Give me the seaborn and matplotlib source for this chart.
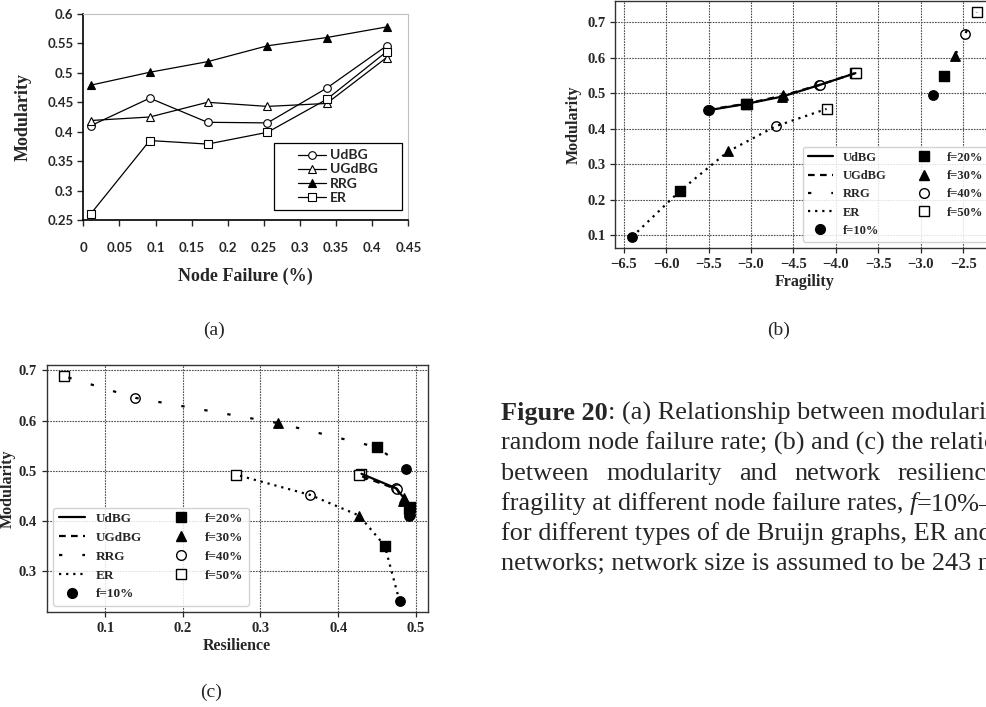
import matplotlib
matplotlib.use("Agg")
import matplotlib.pyplot as plt
import matplotlib.ticker as mticker
from matplotlib.lines import Line2D
from matplotlib.patches import Rectangle
import pandas as pd
import seaborn as sns

# ---------------- data ----------------
# (a) modularity vs node failure
failure_rate = [0.01, 0.092, 0.172, 0.255, 0.337, 0.42]
mod_udbg = [0.410, 0.457, 0.416, 0.415, 0.474, 0.546]
mod_ugdbg = [0.419, 0.425, 0.450, 0.443, 0.448, 0.526]
mod_rrg = [0.479, 0.501, 0.519, 0.546, 0.560, 0.578]
mod_er = [0.260, 0.385, 0.379, 0.399, 0.455, 0.536]

networks = ["UdBG", "UGdBG", "RRG", "ER"]
f_labels = ["f=10%", "f=20%", "f=30%", "f=40%", "f=50%"]

# (b) modularity vs fragility
frag_udbg = [-5.51, -5.06, -4.63, -4.20, -3.77]
fmod_udbg = [0.452, 0.470, 0.491, 0.523, 0.557]
frag_ugdbg = [-5.50, -5.05, -4.62, -4.19, -3.76]
fmod_ugdbg = [0.454, 0.471, 0.494, 0.524, 0.558]
frag_rrg = [-2.86, -2.73, -2.60, -2.48, -2.34]
fmod_rrg = [0.496, 0.549, 0.605, 0.667, 0.729]
frag_er = [-6.40, -5.84, -5.27, -4.71, -4.11]
fmod_er = [0.095, 0.224, 0.336, 0.407, 0.456]

# (c) modularity vs resilience
res_udbg = [0.491, 0.492, 0.485, 0.475, 0.430]
rmod_udbg = [0.410, 0.428, 0.445, 0.465, 0.494]
res_ugdbg = [0.493, 0.491, 0.483, 0.476, 0.427]
rmod_ugdbg = [0.412, 0.425, 0.440, 0.463, 0.491]
res_rrg = [0.488, 0.450, 0.322, 0.139, 0.047]
rmod_rrg = [0.504, 0.547, 0.595, 0.645, 0.688]
res_er = [0.479, 0.460, 0.427, 0.364, 0.269]
rmod_er = [0.241, 0.351, 0.411, 0.452, 0.492]

# ---------------- style ----------------
sns.set_style("ticks")
plt.rcParams["font.family"] = ["Liberation Serif", "DejaVu Serif"]

W, H = 987, 707
fig = plt.figure(figsize=(W / 100, H / 100), dpi=100)


def px_axes(l, t, r, b):
    return fig.add_axes([l / W, 1 - b / H, (r - l) / W, (b - t) / H])


SERIF_B = dict(family="Liberation Serif", weight="bold")

line_styles = {
    "UdBG": "-",
    "UGdBG": (0, (3.0, 2.4)),
    "RRG": (0, (1.5, 9.0)),
    "ER": (0, (1.0, 2.2)),
}
marker_specs = {
    "f=10%": ("o", "black"),
    "f=20%": ("s", "black"),
    "f=30%": ("^", "black"),
    "f=40%": ("o", "white"),
    "f=50%": ("s", "white"),
}


def make_long(xs, ys):
    rows = []
    for net, xv, yv in zip(networks, xs, ys):
        for f, a, b in zip(f_labels, xv, yv):
            rows.append(dict(network=net, f=f, x=a, y=b))
    return pd.DataFrame(rows)


def draw_panel(ax, df, tick_fs, leg_fs, legloc):
    for f in f_labels:
        m, fc = marker_specs[f]
        sub = df[df["f"] == f]
        sns.scatterplot(data=sub, x="x", y="y", ax=ax, marker=m, s=46,
                        color=fc, edgecolor="black", linewidth=1.0,
                        zorder=3, legend=False)
    for net in networks:
        sub = df[df["network"] == net]
        sns.lineplot(data=sub, x="x", y="y", ax=ax, sort=False, estimator=None,
                     color="black", lw=1.6, linestyle=line_styles[net],
                     zorder=4, legend=False)
    ax.grid(True, color="0.3", linestyle=(0, (1.5, 1.0)), linewidth=0.8)
    for sp in ax.spines.values():
        sp.set_color("0.2")
        sp.set_linewidth(1.0)
    ax.tick_params(direction="out", length=3.5, width=0.9, labelsize=tick_fs)
    handles = [Line2D([], [], color="black", lw=1.6, linestyle=line_styles[n])
               for n in networks]
    for f in f_labels:
        m, fc = marker_specs[f]
        handles.append(Line2D([], [], ls="none", marker=m, markersize=7,
                              markerfacecolor=fc, markeredgecolor="black",
                              markeredgewidth=1.0))
    ax.legend(handles, networks + f_labels, ncol=2, loc=legloc,
              prop=dict(family="Liberation Serif", weight="bold", size=leg_fs),
              framealpha=0.85, edgecolor="0.8")


# ---------------- (a) ----------------
ax_a = px_axes(83.3, 14, 408.3, 220)
a_series = [
    ("UdBG", mod_udbg, "o", "white"),
    ("UGdBG", mod_ugdbg, "^", "white"),
    ("RRG", mod_rrg, "^", "black"),
    ("ER", mod_er, "s", "white"),
]
for name, vals, m, fc in a_series:
    sns.lineplot(x=failure_rate, y=vals, ax=ax_a, color="black", lw=0.9,
                 marker=m, markersize=5.5, markerfacecolor=fc,
                 markeredgecolor="black", markeredgewidth=0.8, legend=False)
ax_a.set_xlim(0, 0.45)
ax_a.set_ylim(0.25, 0.6)
ax_a.xaxis.set_major_locator(mticker.MultipleLocator(0.05))
ax_a.yaxis.set_major_locator(mticker.MultipleLocator(0.05))
fmt = mticker.FuncFormatter(lambda v, p: f"{v:.2f}".rstrip("0").rstrip("."))
ax_a.xaxis.set_major_formatter(fmt)
ax_a.yaxis.set_major_formatter(fmt)
for side in ["top", "right"]:
    ax_a.spines[side].set_color("0.75")
    ax_a.spines[side].set_linewidth(0.8)
for side in ["left", "bottom"]:
    ax_a.spines[side].set_color("black")
    ax_a.spines[side].set_linewidth(1.2)
ax_a.tick_params(axis="x", direction="out", length=4, width=1.0, pad=12)
ax_a.tick_params(axis="y", direction="out", length=4, width=1.0, pad=3)
for lab in ax_a.get_xticklabels() + ax_a.get_yticklabels():
    lab.set_fontfamily("Lato")
    lab.set_fontweight("bold")
    lab.set_fontsize(9.5)
ax_a.set_xlabel("Node Failure (%)", fontsize=13, labelpad=10, **SERIF_B)
ax_a.set_ylabel("Modularity", fontsize=13, labelpad=11, **SERIF_B)
ax_a.add_patch(Rectangle(((274 - 83.3) / 325, (220 - 210) / 206),
                         (402 - 274) / 325, (210 - 143) / 206,
                         transform=ax_a.transAxes, facecolor="white",
                         edgecolor="black", lw=0.9, zorder=5))
a_handles = [Line2D([], [], color="black", lw=0.9, marker=m, markersize=5.5,
                    markerfacecolor=fc, markeredgecolor="black",
                    markeredgewidth=0.8) for _, _, m, fc in a_series]
leg_a = ax_a.legend(a_handles, [s[0] for s in a_series], loc="center",
                    bbox_to_anchor=(0.784, 0.211), frameon=False,
                    prop=dict(family="Lato", weight="bold", size=10),
                    labelspacing=0.15, handlelength=2.0, handletextpad=0.3)
leg_a.set_zorder(6)

# ---------------- (b) ----------------
ax_b = px_axes(615, 1, 994, 248)
df_b = make_long([frag_udbg, frag_ugdbg, frag_rrg, frag_er],
                 [fmod_udbg, fmod_ugdbg, fmod_rrg, fmod_er])
draw_panel(ax_b, df_b, 10.5, 9, "lower right")
ax_b.xaxis.set_major_locator(mticker.MultipleLocator(0.5))
ax_b.yaxis.set_major_locator(mticker.MultipleLocator(0.1))
ax_b.set_xlabel("Fragility", fontsize=11.5, labelpad=2, **SERIF_B)
ax_b.set_ylabel("Modularity", fontsize=11.5, labelpad=4, **SERIF_B)
for lab in ax_b.get_xticklabels() + ax_b.get_yticklabels():
    lab.set_fontweight("bold")

# ---------------- (c) ----------------
ax_c = px_axes(46.7, 365, 427.7, 612.3)
df_c = make_long([res_udbg, res_ugdbg, res_rrg, res_er],
                 [rmod_udbg, rmod_ugdbg, rmod_rrg, rmod_er])
draw_panel(ax_c, df_c, 10.5, 9.5, "lower left")
ax_c.xaxis.set_major_locator(mticker.MultipleLocator(0.1))
ax_c.yaxis.set_major_locator(mticker.MultipleLocator(0.1))
ax_c.set_xlabel("Resilience", fontsize=11.5, labelpad=2, **SERIF_B)
ax_c.set_ylabel("Modularity", fontsize=11.5, labelpad=2, **SERIF_B)
for lab in ax_c.get_xticklabels() + ax_c.get_yticklabels():
    lab.set_fontweight("bold")

# ---------------- sub labels ----------------
for txt, x, y in [("(a)", 214, 330), ("(b)", 779, 330), ("(c)", 211, 692)]:
    fig.text(x / W, 1 - y / H, txt, ha="center", va="center", fontsize=14,
             family="Liberation Serif")

# ---------------- caption ----------------
cap_fs = 18.9
x0 = 501 / W
base = [420, 450, 480, 510, 540, 570]
tax = fig.add_axes([0, 0, 1, 1], zorder=-1)
tax.axis("off")

t1 = fig.text(x0, 1 - base[0] / H, "Figure 20", fontsize=cap_fs,
              weight="bold", va="baseline", family="Liberation Serif")
tax.annotate(": (a) Relationship between modularity and", xy=(1, 0),
             xycoords=t1, va="bottom", ha="left", fontsize=cap_fs,
             family="Liberation Serif")
fig.text(x0, 1 - base[1] / H,
         "random node failure rate; (b) and (c) the relationship",
         fontsize=cap_fs, va="baseline", family="Liberation Serif")
for word, xp in [("between", 501), ("modularity", 606), ("and", 739),
                 ("network", 794), ("resilience", 898)]:
    fig.text(xp / W, 1 - base[2] / H, word, fontsize=cap_fs, va="baseline",
             family="Liberation Serif")
t4 = fig.text(x0, 1 - base[3] / H, "fragility at different node failure rates, ",
              fontsize=cap_fs, va="baseline", family="Liberation Serif")
t4b = tax.annotate("f", xy=(1, 0), xycoords=t4, va="bottom", ha="left",
                   fontsize=cap_fs, style="italic", family="Liberation Serif")
tax.annotate("=10%\u201350%,", xy=(1, 0), xycoords=t4b, va="bottom", ha="left",
             fontsize=cap_fs, family="Liberation Serif")
fig.text(x0, 1 - base[4] / H,
         "for different types of de Bruijn graphs, ER and RRG",
         fontsize=cap_fs, va="baseline", family="Liberation Serif")
fig.text(x0, 1 - base[5] / H,
         "networks; network size is assumed to be 243 nodes.",
         fontsize=cap_fs, va="baseline", family="Liberation Serif")

fig.savefig("out.png", dpi=100)
